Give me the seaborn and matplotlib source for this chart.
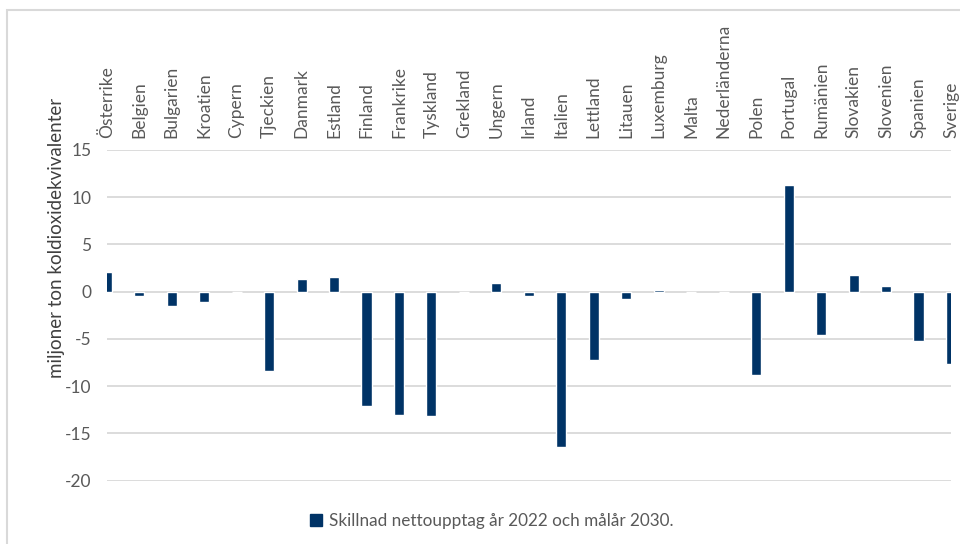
import matplotlib
matplotlib.use("Agg")
import matplotlib.pyplot as plt
from matplotlib.patches import Rectangle
import seaborn as sns
import pandas as pd

# Net removal difference per EU member state (million tonnes CO2e)
countries = [
    "Österrike", "Belgien", "Bulgarien", "Kroatien", "Cypern", "Tjeckien",
    "Danmark", "Estland", "Finland", "Frankrike", "Tyskland", "Grekland",
    "Ungern", "Irland", "Italien", "Lettland", "Litauen", "Luxemburg",
    "Malta", "Nederländerna", "Polen", "Portugal", "Rumänien", "Slovakien",
    "Slovenien", "Spanien", "Sverige",
]
differences = [
    2.1, -0.4, -1.5, -1.1, 0.0, -8.4,
    1.3, 1.6, -12.1, -13.0, -13.2, 0.0,
    0.95, -0.4, -16.4, -7.2, -0.8, 0.2,
    0.0, 0.0, -8.8, 11.3, -4.6, 1.8,
    0.6, -5.2, -7.7,
]
y_ticks = [15, 10, 5, 0, -5, -10, -15, -20]
series_label = "Skillnad nettoupptag år 2022 och målår 2030."
y_label = "miljoner ton koldioxidekvivalenter"

bar_color = "#003366"
grid_color = "#d9d9d9"
text_color = "#595959"

sns.set_style("white")
plt.rcParams["font.family"] = ["Lato", "DejaVu Sans"]

df = pd.DataFrame({"land": countries, "diff": differences})

fig = plt.figure(figsize=(9.6, 5.44), dpi=100)
ax = fig.add_axes([106.7 / 960, 1 - 480.7 / 544, (951 - 106.7) / 960, (480.7 - 150) / 544])

sns.barplot(data=df, x="land", y="diff", color=bar_color, width=0.31,
            saturation=1, ax=ax, label=series_label, legend=False)

ax.set_xlim(0, len(countries) - 1)
ax.set_ylim(-20, 15)
ax.set_yticks(y_ticks)
ax.set_yticklabels([str(v) for v in y_ticks])
ax.yaxis.grid(True, color=grid_color, linewidth=1.3)
ax.set_axisbelow(True)
for s in ax.spines.values():
    s.set_visible(False)

ax.xaxis.tick_top()
ax.tick_params(axis="x", length=0, pad=9, labelsize=12.5, labelcolor=text_color,
               labelrotation=90)
ax.tick_params(axis="y", length=0, pad=11, labelsize=12.5, labelcolor=text_color)
ax.set_xlabel("")
ax.set_ylabel(y_label, fontsize=13.5, color="#404040")
ax.yaxis.set_label_coords(-0.049, 0.734)

# Legend below the plot
handle = Rectangle((0, 0), 1, 1, color=bar_color)
fig.legend([handle], [series_label], loc="center", bbox_to_anchor=(492 / 960, 1 - 521 / 544),
           frameon=False, fontsize=12.3, labelcolor=text_color,
           handlelength=0.7, handleheight=0.7, handletextpad=0.4)

# Chart frame
fig.patches.append(Rectangle((7 / 960, -0.05), 1.2, 1 - 10 / 544 + 0.05,
                             transform=fig.transFigure, fill=False,
                             edgecolor=grid_color, linewidth=1.5))

fig.savefig("out.png", dpi=100)
